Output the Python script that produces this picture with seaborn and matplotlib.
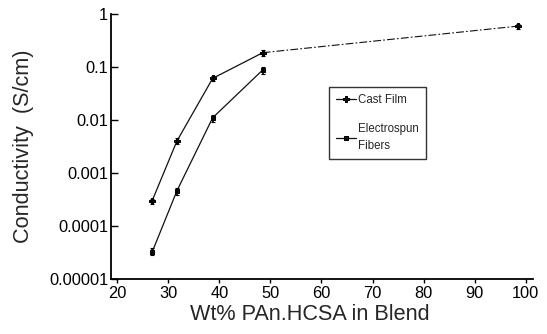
import numpy as np
import pandas as pd
import seaborn as sns
import matplotlib.pyplot as plt
from matplotlib.ticker import FixedLocator, FixedFormatter

# values
wt_cast = [26.8, 31.7, 38.7, 48.5, 98.4]
cond_cast = [2.9e-4, 4.0e-3, 0.061, 0.186, 0.59]
err_cast = [0.12, 0.12, 0.12, 0.12, 0.12]  # relative error

wt_fiber = [26.9, 31.7, 38.7, 48.5]
cond_fiber = [3.3e-5, 4.6e-4, 0.011, 0.088]
err_fiber = [0.15, 0.15, 0.15, 0.15]

y_ticks = [1e-5, 1e-4, 1e-3, 1e-2, 1e-1, 1]
y_labels = ['0.00001', '0.0001', '0.001', '0.01', '0.1', '1']
x_ticks = [20, 30, 40, 50, 60, 70, 80, 90, 100]

sns.set_style("ticks")
plt.rcParams['font.family'] = ['Liberation Sans', 'DejaVu Sans']

fig = plt.figure(figsize=(5.47, 3.34), dpi=100)
ax = fig.add_axes([0.2029, 0.1647, 0.7715, 0.7934])

df_cast = pd.DataFrame({'wt': wt_cast, 'cond': cond_cast})
df_fiber = pd.DataFrame({'wt': wt_fiber, 'cond': cond_fiber})

# cast film: solid through the blend points, dash-dot to the pure sample
sns.lineplot(data=df_cast.iloc[:4], x='wt', y='cond', ax=ax, color='#111111',
             lw=0.9, marker='P', markersize=5, mec='black', label='Cast Film')
sns.lineplot(data=df_cast.iloc[3:], x='wt', y='cond', ax=ax, color='#111111',
             lw=0.8, ls=(0, (7, 2, 1.5, 2)), marker='P', markersize=5,
             mec='black', legend=False)
sns.lineplot(data=df_fiber, x='wt', y='cond', ax=ax, color='#111111',
             lw=0.9, marker='s', markersize=3.5, mec='black',
             label='Electrospun\nFibers')

for xs, ys, es in [(wt_cast, cond_cast, err_cast), (wt_fiber, cond_fiber, err_fiber)]:
    ys = np.array(ys)
    es = np.array(es)
    ax.errorbar(xs, ys, yerr=[ys * es, ys * es], fmt='none', ecolor='black',
                elinewidth=1.2, capsize=1.5, capthick=0.8)

ax.set_yscale('log')
ax.set_ylim(1e-5, 1)
ax.set_xlim(18.8, 101.4)
ax.yaxis.set_major_locator(FixedLocator(y_ticks))
ax.yaxis.set_major_formatter(FixedFormatter(y_labels))
ax.yaxis.set_minor_locator(FixedLocator([]))
ax.set_xticks(x_ticks)

sns.despine(ax=ax)
for s in ['left', 'bottom']:
    ax.spines[s].set_linewidth(1.3)
    ax.spines[s].set_color('black')

ax.tick_params(axis='y', direction='in', length=5, width=1, labelsize=11.8,
               pad=2, colors='black')
ax.tick_params(axis='x', direction='out', length=3, width=1, labelsize=11.8,
               pad=2, colors='black')

ax.set_xlabel('Wt% PAn.HCSA in Blend', fontsize=15.6)
ax.set_ylabel('Conductivity  (S/cm)', fontsize=15.6)
ax.xaxis.set_label_coords(0.4706, -0.094)
ax.yaxis.set_label_coords(-0.183, 0.5)

leg = ax.legend(loc='upper left', bbox_to_anchor=(0.517, 0.725),
                borderaxespad=0, frameon=True, fancybox=False,
                handlelength=1.7, handletextpad=0.2, borderpad=0.6,
                labelspacing=1.5,
                prop={'family': ['Liberation Sans', 'DejaVu Sans'], 'size': 8.3})
leg.get_frame().set_edgecolor('black')
leg.get_frame().set_linewidth(1.0)
for t in leg.get_texts():
    t.set_linespacing(1.6)

fig.savefig('out.png', dpi=100)
